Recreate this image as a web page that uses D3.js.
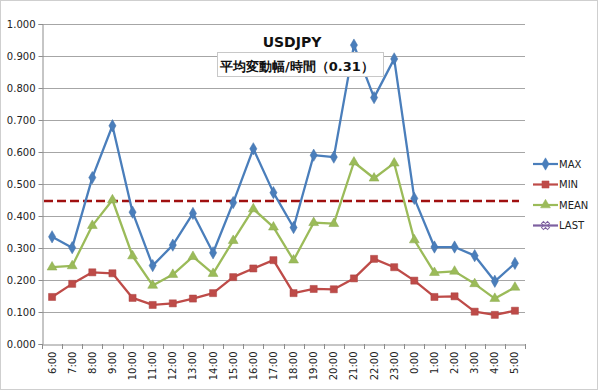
<!DOCTYPE html>
<html><head><meta charset="utf-8">
<script src="https://cdn.jsdelivr.net/npm/d3@7"></script>
<style>body{margin:0;background:#fff;} text{font-family:"DejaVu Sans",sans-serif;}</style>
</head><body>
<svg id="c" width="600" height="391"></svg>
<script>
const categories = ["6:00","7:00","8:00","9:00","10:00","11:00","12:00","13:00","14:00","15:00","16:00","17:00","18:00","19:00","20:00","21:00","22:00","23:00","0:00","1:00","2:00","3:00","4:00","5:00"];
const maxValues  = [0.335,0.301,0.520,0.682,0.412,0.245,0.309,0.408,0.285,0.442,0.610,0.473,0.364,0.590,0.584,0.934,0.770,0.891,0.455,0.303,0.303,0.276,0.196,0.252];
const minValues  = [0.147,0.188,0.224,0.221,0.144,0.122,0.127,0.142,0.159,0.209,0.236,0.262,0.159,0.172,0.171,0.205,0.266,0.240,0.198,0.147,0.149,0.101,0.091,0.104];
const meanValues = [0.240,0.244,0.370,0.450,0.275,0.183,0.217,0.273,0.220,0.323,0.422,0.365,0.262,0.379,0.376,0.568,0.518,0.565,0.325,0.223,0.227,0.188,0.142,0.177];
const lastValues = [];
const refLine = 0.447;
const yTicks = [0,0.1,0.2,0.3,0.4,0.5,0.6,0.7,0.8,0.9,1.0];
const seriesNames = ["MAX","MIN","MEAN","LAST"];
const title = "USDJPY";
const subtitle = "平均変動幅/時間（0.31）";

const svg = d3.select("#c");
const L=42, R=525, T=24, B=344;
const x = d3.scaleBand().domain(categories).range([L,R]);
const y = d3.scaleLinear().domain([0,1]).range([B,T]);

// outer frame
svg.append("rect").attr("x",0.5).attr("y",0.5).attr("width",597).attr("height",389)
  .attr("fill","#fff").attr("stroke","#cfcfcf");

// gridlines
svg.append("g").selectAll("line").data(yTicks.slice(1)).join("line")
  .attr("x1",L).attr("x2",R).attr("y1",d=>Math.round(y(d))+0.5).attr("y2",d=>Math.round(y(d))+0.5)
  .attr("stroke","#a6a6a6").attr("stroke-width",1);

// y axis
const ya = svg.append("g").attr("transform",`translate(${L+0.5},0)`)
  .call(d3.axisLeft(y).tickValues(yTicks).tickFormat(d3.format(".3f")).tickSize(4).tickPadding(3));
ya.select(".domain").attr("stroke","#8c8c8c");
ya.selectAll(".tick line").attr("stroke","#8c8c8c");
ya.selectAll("text").attr("font-size",10).attr("fill","#222").attr("font-family","DejaVu Sans");

// x axis
const xa = svg.append("g").attr("transform",`translate(0,${B+0.5})`)
  .call(d3.axisBottom(x).tickSize(0).tickSizeOuter(0));
xa.select(".domain").attr("stroke","#8c8c8c");
xa.selectAll(".tick line").remove();
xa.selectAll("text").attr("font-size",10).attr("fill","#222").attr("font-family","DejaVu Sans")
  .attr("transform","rotate(-90)").attr("text-anchor","end").attr("dy","0.35em").attr("x",-7).attr("y",0);
// boundary ticks
const bounds = categories.map(c=>x(c)).concat([R]);
svg.append("g").selectAll("line").data(bounds).join("line")
  .attr("x1",d=>Math.round(d)+0.5).attr("x2",d=>Math.round(d)+0.5).attr("y1",B).attr("y2",B+5)
  .attr("stroke","#8c8c8c");

// reference dashed line
svg.append("line").attr("x1",L+2).attr("x2",R-6).attr("y1",y(refLine)).attr("y2",y(refLine))
  .attr("stroke","#a01010").attr("stroke-width",2.5).attr("stroke-dasharray","9,4");

const cx = d=>x(d)+x.bandwidth()/2;
const series = [
  {name:"MAX", vals:maxValues, color:"#4a7ebb", sym:d3.symbolDiamond, size:44},
  {name:"MIN", vals:minValues, color:"#be4b48", sym:d3.symbolSquare, size:50},
  {name:"MEAN", vals:meanValues, color:"#9bbb59", sym:d3.symbolTriangle, size:42},
  {name:"LAST", vals:lastValues, color:"#7d60a0", sym:d3.symbolCross, size:40}
];
const line = d3.line().x((d,i)=>cx(categories[i])).y(d=>y(d));
series.forEach(s=>{
  if(!s.vals.length) return;
  svg.append("path").datum(s.vals).attr("d",line).attr("fill","none")
    .attr("stroke",s.color).attr("stroke-width",2.3).attr("stroke-linejoin","round");
  svg.append("g").selectAll("path").data(s.vals).join("path")
    .attr("d",d3.symbol().type(s.sym).size(s.size))
    .attr("transform",(d,i)=>`translate(${cx(categories[i])},${y(d)})`)
    .attr("fill",s.color).attr("stroke",d3.color(s.color).darker(0.3)).attr("stroke-width",0.5);
});

// title and subtitle box (on top of the series)
svg.append("text").attr("x",292).attr("y",47).attr("text-anchor","middle")
  .attr("font-size",14).attr("font-weight","bold").attr("fill","#111").text(title);
svg.append("rect").attr("x",217.5).attr("y",52.5).attr("width",166).attr("height",24)
  .attr("fill","#fff").attr("stroke","#c8c8c8");
svg.append("text").attr("x",297).attr("y",70.5).attr("text-anchor","middle")
  .attr("font-size",13).attr("font-weight","bold").attr("fill","#111")
  .attr("font-family","Noto Sans CJK JP").text(subtitle);

// legend
const lg = svg.append("g");
series.forEach((s,i)=>{
  const ly = 164 + i*20.5;
  lg.append("line").attr("x1",533).attr("x2",558).attr("y1",ly).attr("y2",ly)
    .attr("stroke",s.color).attr("stroke-width",2.2);
  lg.append("path").attr("d",d3.symbol().type(s.sym).size(s.size))
    .attr("transform",`translate(545.5,${ly}) ${s.name==="LAST"?"rotate(45)":""}`)
    .attr("fill",s.name==="LAST"?"none":s.color).attr("stroke",s.color).attr("stroke-width",s.name==="LAST"?1:0.5);
  lg.append("text").attr("x",559).attr("y",ly).attr("dy","0.35em").attr("font-size",10)
    .attr("fill","#222").text(s.name);
});
</script>
</body></html>
